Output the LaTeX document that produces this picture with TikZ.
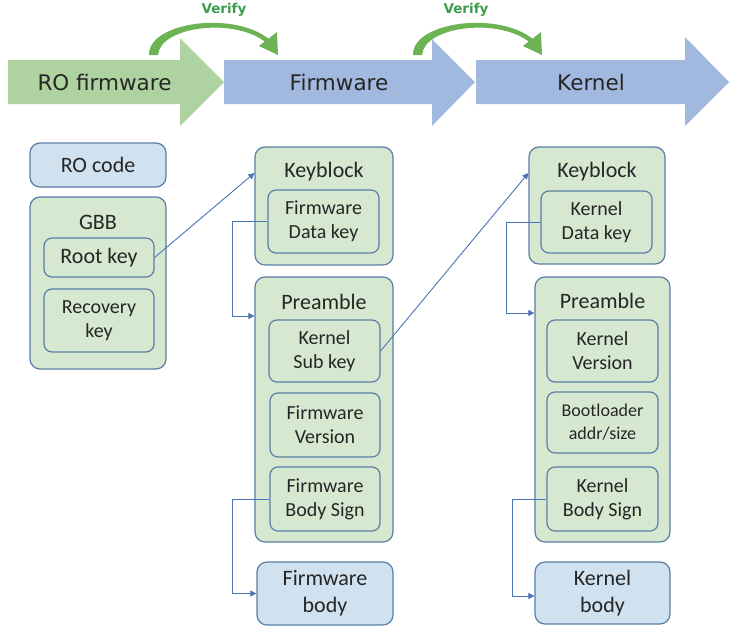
\documentclass[tikz,border=0pt]{standalone}
\usepackage{fontspec}
\setmainfont{Carlito}
\newfontfamily\verd{DejaVu Sans}
\usetikzlibrary{arrows.meta}
\definecolor{arrgreen}{HTML}{AED3A0}
\definecolor{arrblue}{HTML}{A2B9DF}
\definecolor{boxgreen}{HTML}{D6E8D0}
\definecolor{boxblue}{HTML}{D0E1EF}
\definecolor{boxline}{HTML}{5A7FA6}
\definecolor{connblue}{HTML}{4A73B8}
\definecolor{verifygreen}{HTML}{6CB354}
\definecolor{verifytext}{HTML}{3C9D4E}
\definecolor{txt}{HTML}{262626}
\begin{document}
\begin{tikzpicture}[x=1pt,y=-1pt,
  outerbox/.style={draw=boxline, line width=1.2pt, fill=boxgreen, rounded corners=10pt, inner sep=0pt},
  innerbox/.style={draw=boxline, line width=1.2pt, fill=boxgreen, rounded corners=8pt, inner sep=0pt, align=center, text=txt, font=\fontsize{20}{24}\selectfont},
  bluebox/.style={draw=boxline, line width=1.2pt, fill=boxblue, rounded corners=10pt, inner sep=0pt, align=center, text=txt, font=\fontsize{22}{27}\selectfont},
  headlabel/.style={text=txt, font=\fontsize{22}{26}\selectfont, inner sep=0pt},
  arrlabel/.style={text=txt, font=\verd\fontsize{21.5}{26}\selectfont, inner sep=0pt},
  verifylabel/.style={text=verifytext, font=\verd\bfseries\fontsize{13.5}{16}\selectfont, inner sep=0pt},
  conn/.style={draw=connblue, line width=0.9pt, -{Triangle[length=6pt,width=6pt]}},
  elbow/.style={draw=connblue, line width=0.7pt, -{Triangle[length=6pt,width=6pt]}},
]
\useasboundingbox[fill=white] (0,0) rectangle (737,630);

% top stage arrows
\fill[arrgreen] (8,60) -- (180,60) -- (180,38) -- (224,82) -- (180,126) -- (180,104) -- (8,104) -- cycle;
\fill[arrblue] (224,60) -- (432,60) -- (432,39) -- (475,82) -- (432,126) -- (432,104) -- (224,104) -- cycle;
\fill[arrblue] (476,60) -- (685,60) -- (685,37) -- (729,82) -- (685,126) -- (685,104) -- (476,104) -- cycle;
\node[arrlabel] (tro) at (104.5,82) {RO firmware};
\node[arrlabel] (tfw) at (339,82) {Firmware};
\node[arrlabel] (tk) at (591,82) {Kernel};

% verify arcs
\foreach \dx in {0,264}{
  \begin{scope}[xshift=\dx pt]
    \fill[verifygreen] (149,55) .. controls (148,22) and (235,10) .. (270,40)
      -- (266.5,43) .. controls (236,17) and (160,26) .. (158,55) -- cycle;
    \fill[verifygreen] (259,46) -- (277,32) -- (278,55) -- cycle;
  \end{scope}
}
\node[verifylabel] (v1) at (224,10) {Verify};
\node[verifylabel] (v2) at (466,10) {Verify};

% RO column
\node[bluebox, minimum width=136pt, minimum height=44pt] (rocode) at (98,165) {RO code};
\node[outerbox, minimum width=136pt, minimum height=172pt] (gbb) at (98,283) {};
\node[headlabel] (gbbl) at (98,222) {GBB};
\node[innerbox, minimum width=110pt, minimum height=39pt, font=\fontsize{22}{26}\selectfont] (root) at (99,257.5) {Root key};
\node[innerbox, minimum width=110pt, minimum height=63pt] (recov) at (99,320.5) {Recovery\\key};

% Firmware column
\node[outerbox, minimum width=138pt, minimum height=118pt] (fwkb) at (324,206) {};
\node[headlabel] (fwkbl) at (324,172) {Keyblock};
\node[innerbox, minimum width=111pt, minimum height=63pt] (fwdk) at (323.5,221.5) {Firmware\\Data key};
\node[outerbox, minimum width=138pt, minimum height=265pt] (fwpre) at (324,409.5) {};
\node[headlabel] (fwprel) at (324,302) {Preamble};
\node[innerbox, minimum width=111pt, minimum height=62pt] (ksub) at (324.5,351) {Kernel\\Sub key};
\node[innerbox, minimum width=110pt, minimum height=64pt] (fwver) at (325,425) {Firmware\\Version};
\node[innerbox, minimum width=110pt, minimum height=64pt] (fwsig) at (325,499) {Firmware\\Body Sign};
\node[bluebox, minimum width=136pt, minimum height=63pt] (fwbody) at (325,593.5) {Firmware\\body};

% Kernel column
\node[outerbox, minimum width=136pt, minimum height=117pt] (kkb) at (597,205.5) {};
\node[headlabel] (kkbl) at (597,172) {Keyblock};
\node[innerbox, minimum width=111pt, minimum height=62pt] (kdk) at (596.5,222) {Kernel\\Data key};
\node[outerbox, minimum width=135pt, minimum height=265pt] (kpre) at (602.5,409.5) {};
\node[headlabel] (kprel) at (602.5,301) {Preamble};
\node[innerbox, minimum width=111pt, minimum height=62pt] (kver) at (602.5,351) {Kernel\\Version};
\node[innerbox, minimum width=111pt, minimum height=61pt, font=\fontsize{18}{23}\selectfont] (boot) at (602.5,422.5) {Bootloader\\addr/size};
\node[innerbox, minimum width=111pt, minimum height=64pt] (ksig) at (602.5,499) {Kernel\\Body Sign};
\node[bluebox, minimum width=135pt, minimum height=62pt] (kbody) at (602.5,593) {Kernel\\body};

% connectors
\draw[conn] (root.east) -- ([yshift=33pt]fwkb.west);
\draw[conn] (ksub.east) -- ([yshift=32.5pt]kkb.west);
\draw[elbow] (fwdk.west) -- ++(-35,0) |- ([yshift=93.5pt]fwpre.west);
\draw[elbow] (fwsig.west) -- ++(-37,0) |- (fwbody.west);
\draw[elbow] (kdk.west) -- ++(-34,0) |- ([yshift=96.5pt]kpre.west);
\draw[elbow] (ksig.west) -- ++(-34,0) |- ([yshift=-3pt]kbody.west);
\end{tikzpicture}
\end{document}
